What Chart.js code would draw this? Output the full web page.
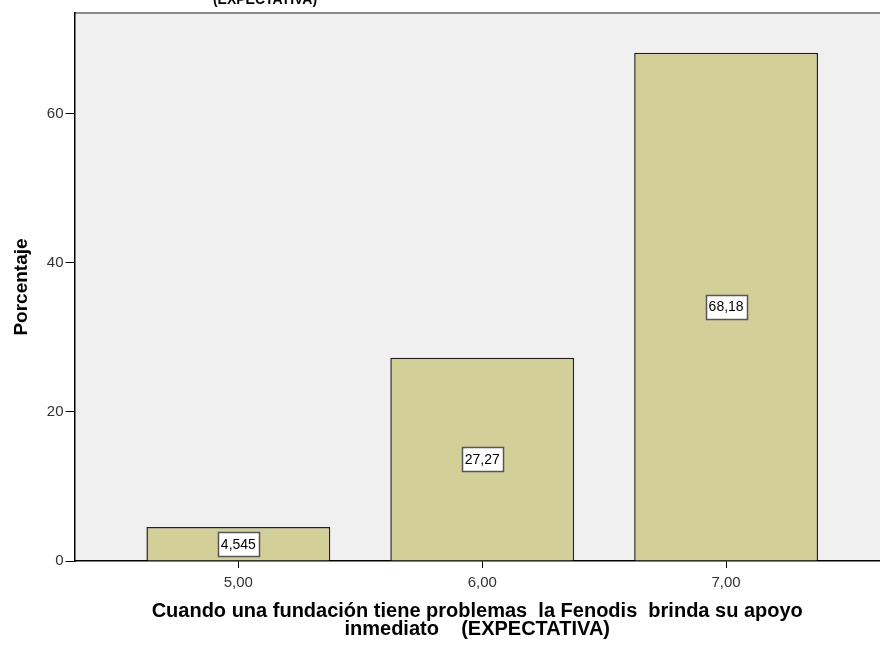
<!DOCTYPE html>
<html>
<head>
<meta charset="utf-8">
<script src="https://cdn.jsdelivr.net/npm/chart.js@4"></script>
<style>
  html, body { margin: 0; padding: 0; background: #fff; }
  #wrap { width: 880px; height: 648px; }
</style>
</head>
<body>
<div id="wrap"><canvas id="myChart"></canvas></div>
<script>
// categorias (valores de la escala) y porcentajes
const categories = [5, 6, 7];
const tickLabels = ['5,00', '6,00', '7,00'];
const percentages = [4.545, 27.27, 68.18];
const valueLabels = ['4,545', '27,27', '68,18'];
const yTicks = [0, 20, 40, 60];

const FONT = "Arial, 'Liberation Sans', sans-serif";

// fondo gris del area del grafico + linea superior
const plotBg = {
  id: 'plotBg',
  beforeDraw(chart) {
    const a = chart.chartArea;
    const ctx = chart.ctx;
    ctx.save();
    ctx.fillStyle = '#f0f0f0';
    ctx.fillRect(a.left, a.top, a.right - a.left, a.bottom - a.top);
    ctx.strokeStyle = '#8a8a8a';
    ctx.lineWidth = 2;
    ctx.beginPath();
    ctx.moveTo(a.left, a.top);
    ctx.lineTo(a.right, a.top);
    ctx.stroke();
    ctx.restore();
  },
  afterDraw(chart) {
    // titulo recortado arriba
    const ctx = chart.ctx;
    ctx.save();
    ctx.font = 'bold 14px ' + FONT;
    ctx.fillStyle = '#000';
    ctx.textAlign = 'center';
    ctx.textBaseline = 'alphabetic';
    ctx.fillText('(EXPECTATIVA)', 265, 4);
    ctx.restore();
  }
};

// etiquetas con caja blanca en el centro de cada barra
const boxLabels = {
  id: 'boxLabels',
  afterDatasetsDraw(chart) {
    const ctx = chart.ctx;
    const meta = chart.getDatasetMeta(0);
    ctx.save();
    ctx.font = '14px ' + FONT;
    ctx.textAlign = 'center';
    ctx.textBaseline = 'middle';
    meta.data.forEach((bar, i) => {
      const txt = valueLabels[i];
      const w = Math.round(ctx.measureText(txt).width) + 6;
      const h = 24;
      const cy = (bar.y + bar.base) / 2;
      const x0 = Math.round(bar.x - w / 2) + 0.5;
      const y0 = Math.round(cy - h / 2) + 0.5;
      ctx.fillStyle = '#fff';
      ctx.fillRect(x0, y0, w, h);
      ctx.strokeStyle = '#555';
      ctx.lineWidth = 1.5;
      ctx.strokeRect(x0, y0, w, h);
      ctx.fillStyle = '#000';
      ctx.fillText(txt, bar.x, cy + 1);
    });
    ctx.restore();
  }
};

const data = {
  datasets: [{
    data: categories.map((c, i) => ({ x: c, y: percentages[i] })),
    backgroundColor: '#d3cf98',
    borderColor: '#222',
    borderWidth: 1.5,
    barPercentage: 0.754,
    categoryPercentage: 1,
  }]
};

const config = {
  type: 'bar',
  data,
  plugins: [plotBg, boxLabels],
  options: {
    animation: false,
    responsive: true,
    maintainAspectRatio: false,
    devicePixelRatio: 1,
    layout: { padding: { top: 13, right: 0, left: 10, bottom: 10 } },
    plugins: {
      legend: { display: false },
      tooltip: { enabled: false },
    },
    scales: {
      x: {
        type: 'linear',
        offset: false,
        min: 4.328,
        max: 7.631,
        afterBuildTicks(axis) {
          axis.ticks = categories.map(v => ({ value: v }));
        },
        ticks: {
          callback: (v) => tickLabels[categories.indexOf(v)],
          color: '#333',
          font: { family: FONT, size: 15 },
          padding: 6,
          maxRotation: 0,
        },
        grid: { offset: false, drawOnChartArea: false, drawTicks: true, tickLength: 7, color: '#000', lineWidth: 1 },
        border: { display: true, color: '#000', width: 1.5 },
        title: {
          display: true,
          text: ['Cuando una fundación tiene problemas  la Fenodis  brinda su apoyo', 'inmediato    (EXPECTATIVA)'],
          font: { family: FONT, size: 20, weight: 'bold', lineHeight: 0.9 },
          color: '#000',
          padding: { top: 4, bottom: 0 },
        }
      },
      y: {
        min: 0,
        max: 73.5,
        afterBuildTicks(axis) {
          axis.ticks = yTicks.map(v => ({ value: v }));
        },
        ticks: {
          color: '#333',
          font: { family: FONT, size: 15 },
          padding: 2,
        },
        grid: { drawOnChartArea: false, drawTicks: true, tickLength: 9, color: '#000', lineWidth: 1 },
        border: { display: true, color: '#000', width: 1.5 },
        title: {
          display: true,
          text: 'Porcentaje',
          font: { family: FONT, size: 19, weight: 'bold' },
          color: '#000',
          padding: { top: 0, bottom: 12 },
        }
      }
    }
  }
};

const myChart = new Chart(document.getElementById('myChart'), config);
</script>
</body>
</html>
